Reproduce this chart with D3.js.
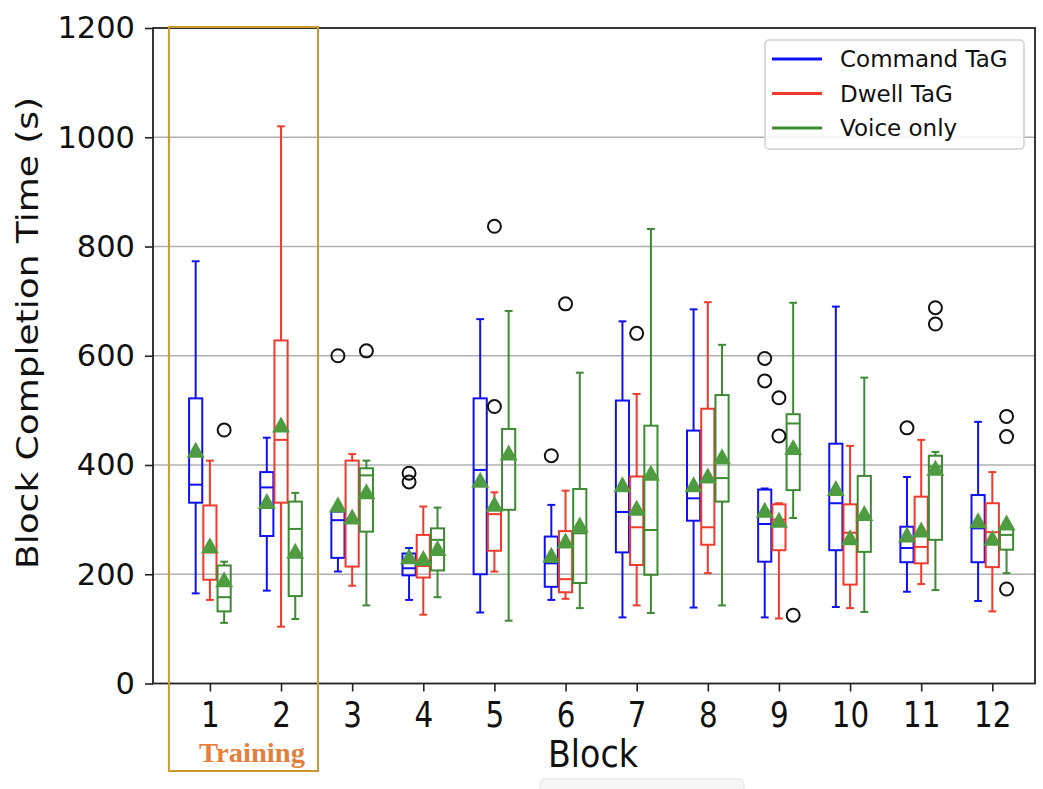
<!DOCTYPE html>
<html><head><meta charset="utf-8">
<script src="https://cdn.jsdelivr.net/npm/d3@7"></script>
<style>body{margin:0;background:#fff}svg{display:block}</style>
</head><body>
<svg id="c" width="1043" height="789"></svg>
<script>
// ---------- DATA ----------
const blocks = [1,2,3,4,5,6,7,8,9,10,11,12];
const blockLabels = ["1","2","3","4","5","6","7","8","9","10","11","12"];
const yTicks = [0,200,400,600,800,1000,1200];
const seriesNames = ["Command TaG","Dwell TaG","Voice only"];
const seriesColors = ["#1010f5","#f03a2c","#3c8a32"];
const meanColor = "#4f9b40";

// Command TaG
const cmdLow    = [165,170,205,153,130,153,121,139,121,140,168,151];
const cmdQ1     = [331,270,230,198,200,177,240,298,223,244,222,222];
const cmdMedian = [364,359,299,211,391,220,314,339,292,330,248,284];
const cmdQ3     = [522,387,315,238,522,269,518,463,355,439,287,345];
const cmdHigh   = [773,450,315,248,667,327,663,685,357,690,378,479];
const cmdMean   = [427,333,327,232,372,235,364,364,317,357,272,298];
const cmdOut    = [[],[],[600],[385,369],[],[417],[],[],[595,554],[],[468],[]];

// Dwell TaG
const dwlLow    = [153,104,179,126,205,155,143,202,119,138,182,132];
const dwlQ1     = [190,331,214,194,243,167,217,254,244,181,220,213];
const dwlMedian = [240,446,300,215,310,191,286,286,300,276,250,277];
const dwlQ3     = [326,628,408,272,318,279,379,503,328,328,342,330];
const dwlHigh   = [408,1020,420,324,350,353,530,698,330,435,446,387];
const dwlMean   = [252,473,305,229,328,261,321,380,299,267,281,266];
const dwlOut    = [[],[],[],[],[837,507],[695],[641],[],[523,453],[],[],[]];

// Voice only
const vocLow    = [111,118,143,158,115,138,129,143,303,131,171,202];
const vocQ1     = [132,160,278,207,318,184,199,333,354,241,263,245];
const vocMedian = [158,283,381,263,415,275,281,376,476,300,397,272];
const vocQ3     = [216,333,394,284,466,356,472,528,493,380,417,284];
const vocHigh   = [223,349,408,322,682,569,832,620,697,560,424,290];
const vocMean   = [190,242,351,247,422,290,385,415,432,311,394,294];
const vocOut    = [[464],[],[609],[],[],[],[],[],[125],[],[688,658],[489,452,173]];

const trainingBlocks = [1,2];
const trainingLabel = "Training";

// ---------- BUILD ----------
const series = [
  {name:seriesNames[0], color:seriesColors[0], low:cmdLow, q1:cmdQ1, med:cmdMedian, q3:cmdQ3, high:cmdHigh, mean:cmdMean, out:cmdOut},
  {name:seriesNames[1], color:seriesColors[1], low:dwlLow, q1:dwlQ1, med:dwlMedian, q3:dwlQ3, high:dwlHigh, mean:dwlMean, out:dwlOut},
  {name:seriesNames[2], color:seriesColors[2], low:vocLow, q1:vocQ1, med:vocMedian, q3:vocQ3, high:vocHigh, mean:vocMean, out:vocOut}
];
const offsets = [-0.2, 0, 0.2];
const boxW = 0.185, capW = 0.11;

const L=153, R=1035, T=28, B=683.5;
const x = d3.scaleLinear().domain([0.2,12.6]).range([L,R]);
const y = d3.scaleLinear().domain([0,1200]).range([B,T]);

const svg = d3.select("#c");
svg.append("rect").attr("width",1043).attr("height",789).attr("fill","#fff");

// faint screenshot artifact at bottom
svg.append("rect").attr("x",540).attr("y",779).attr("width",204).attr("height",20).attr("rx",5)
  .attr("fill","#f6f6f6").attr("stroke","#e2e2e2").attr("stroke-width",1);

// grid
svg.append("g").selectAll("line").data(yTicks.filter(d=>d>0&&d<1200)).join("line")
  .attr("x1",L).attr("x2",R).attr("y1",d=>y(d)).attr("y2",d=>y(d))
  .attr("stroke","#b0b0b0").attr("stroke-width",1.6);

// boxes
series.forEach((s,si)=>{
  const g = svg.append("g");
  blocks.forEach((b,i)=>{
    const cx = b + offsets[si];
    const line=(x1,y1,x2,y2)=>g.append("line").attr("x1",x(x1)).attr("x2",x(x2)).attr("y1",y(y1)).attr("y2",y(y2))
      .attr("stroke",s.color).attr("stroke-width",2);
    line(cx,s.q3[i],cx,s.high[i]);
    line(cx,s.q1[i],cx,s.low[i]);
    line(cx-capW/2,s.high[i],cx+capW/2,s.high[i]);
    line(cx-capW/2,s.low[i],cx+capW/2,s.low[i]);
    g.append("rect").attr("x",x(cx-boxW/2)).attr("width",x(cx+boxW/2)-x(cx-boxW/2))
      .attr("y",y(s.q3[i])).attr("height",y(s.q1[i])-y(s.q3[i]))
      .attr("fill","none").attr("stroke",s.color).attr("stroke-width",2);
    line(cx-boxW/2,s.med[i],cx+boxW/2,s.med[i]);
  });
});
// means
series.forEach((s,si)=>{
  svg.append("g").selectAll("path").data(blocks).join("path")
    .attr("d",(b,i)=>{const px=x(b+offsets[si]), py=y(s.mean[i]);
      return `M${px},${py-8.5}L${px+9},${py+7.5}L${px-9},${py+7.5}Z`;})
    .attr("fill",meanColor);
});
// outliers
series.forEach((s,si)=>{
  const pts=[];
  blocks.forEach((b,i)=>s.out[i].forEach(v=>pts.push([b+offsets[si],v])));
  svg.append("g").selectAll("circle").data(pts).join("circle")
    .attr("cx",d=>x(d[0])).attr("cy",d=>y(d[1])).attr("r",6.5)
    .attr("fill","none").attr("stroke","#111").attr("stroke-width",2);
});

// frame
svg.append("rect").attr("x",L).attr("y",T).attr("width",R-L).attr("height",B-T)
  .attr("fill","none").attr("stroke","#222").attr("stroke-width",1.8);

// y axis
const ya = svg.append("g").attr("transform",`translate(${L},0)`)
  .call(d3.axisLeft(y).tickValues(yTicks).tickSize(8).tickPadding(10).tickFormat(d3.format("d")));
ya.select(".domain").remove();
ya.selectAll("line").attr("stroke","#222").attr("stroke-width",1.6);
ya.selectAll("text").attr("font-family","DejaVu Sans").attr("font-size",30.5).attr("fill","#111");

// x axis
const xa = svg.append("g").attr("transform",`translate(0,${B})`)
  .call(d3.axisBottom(x).tickValues(blocks).tickSize(8).tickFormat((d,i)=>blockLabels[i]));
xa.select(".domain").remove();
xa.selectAll("line").attr("stroke","#222").attr("stroke-width",1.6);
xa.selectAll("text").attr("font-family","DejaVu Sans").attr("font-size",35).attr("fill","#111")
  .attr("y",0).attr("dy",0).attr("x",0)
  .attr("transform","translate(0,43) scale(0.84,1)");

// axis labels
svg.append("text").attr("x",593).attr("y",767).attr("text-anchor","middle")
  .attr("font-family","DejaVu Sans").attr("font-size",37).attr("fill","#111")
  .attr("textLength",90).attr("lengthAdjust","spacingAndGlyphs").text("Block");
svg.append("text").attr("transform","translate(38,333) rotate(-90)").attr("text-anchor","middle")
  .attr("font-family","DejaVu Sans").attr("font-size",30).attr("fill","#111")
  .attr("textLength",472).attr("lengthAdjust","spacingAndGlyphs").text("Block Completion Time (s)");

// training box
const tx0 = x(trainingBlocks[0]) - 41, tx1 = x(trainingBlocks[1]) + 37;
svg.append("rect").attr("x",tx0).attr("y",T-1).attr("width",tx1-tx0).attr("height",771-T+1)
  .attr("fill","none").attr("stroke","#c99a34").attr("stroke-width",2);
svg.append("text").attr("x",252).attr("y",762).attr("text-anchor","middle")
  .attr("font-family","Liberation Serif").attr("font-weight","bold").attr("font-size",27)
  .attr("fill","#e57f3c").attr("textLength",106).attr("lengthAdjust","spacingAndGlyphs").text(trainingLabel);

// legend
const lg = svg.append("g");
lg.append("rect").attr("x",765).attr("y",40).attr("width",259).attr("height",109).attr("rx",4)
  .attr("fill","#fff").attr("fill-opacity",0.85).attr("stroke","#cfcfcf").attr("stroke-width",1.5);
series.forEach((s,i)=>{
  const yy = 59 + i*34.5;
  lg.append("line").attr("x1",772).attr("x2",822).attr("y1",yy).attr("y2",yy)
    .attr("stroke",s.color).attr("stroke-width",3);
  lg.append("text").attr("x",840).attr("y",yy+8).attr("font-family","DejaVu Sans").attr("font-size",23)
    .attr("fill","#111").text(s.name);
});
</script>
</body></html>
